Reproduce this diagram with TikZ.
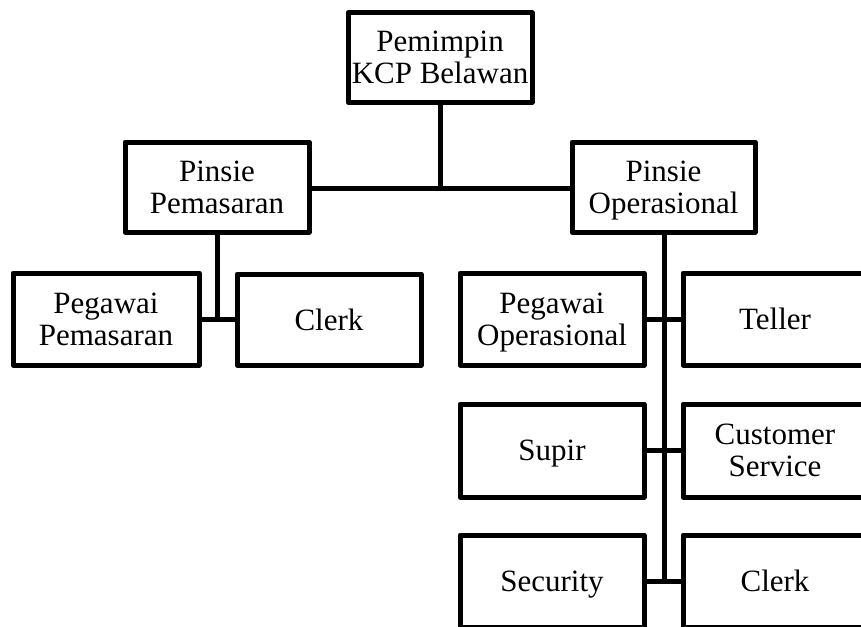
\documentclass[tikz,border=0pt]{standalone}
\usepackage{fontspec}
\setmainfont{Liberation Serif}
\begin{document}
\begin{tikzpicture}[x=1pt,y=-1pt,
  orgbox/.style={draw=black,line width=5pt,line join=round,fill=white,inner sep=0pt,
    align=center,font=\fontsize{31}{32}\selectfont,text depth=0pt,
    minimum width=184pt,minimum height=91pt},
  conn/.style={draw=black,line width=5pt}]
\useasboundingbox (0,0) rectangle (861,626);
\clip (0,0) rectangle (861,626);
% nodes
\node[orgbox,minimum height=89pt] (top) at (440,57.5) {Pemimpin\\KCP Belawan};
\node[orgbox,minimum height=90pt] (pp) at (217,187) {Pinsie\\Pemasaran};
\node[orgbox,minimum height=90pt,minimum width=183pt] (po) at (663.5,187) {Pinsie\\Operasional};
\node[orgbox,minimum width=186pt,minimum height=92pt] (pegpem) at (106,319) {Pegawai\\Pemasaran};
\node[orgbox] (clerkl) at (329,319.5) {Clerk};
\node[orgbox,minimum height=92pt] (pegop) at (552,319) {Pegawai\\Operasional};
\node[orgbox,minimum height=92pt] (teller) at (775,319) {Teller};
\node[orgbox,minimum height=93pt] (supir) at (552,450.5) {Supir};
\node[orgbox,minimum height=93pt] (cs) at (775,450.5) {Customer\\Service};
\node[orgbox,minimum height=92pt] (sec) at (552,581) {Security};
\node[orgbox,minimum height=92pt] (clerkr) at (775,581) {Clerk};
% junction coordinates
\coordinate (j1) at (440,188);
\coordinate (j2) at (217,319);
\coordinate (j3) at (664,581);
% connectors
\draw[conn] (top.south) -- (j1);
\draw[conn] (pp.east |- j1) -- (po.west |- j1);
\draw[conn] (pp.south) -- (j2);
\draw[conn] (pegpem.east |- j2) -- (clerkl.west |- j2);
\draw[conn] (po.south -| j3) -- (j3);
\draw[conn] (pegop.east) -- (teller.west);
\draw[conn] (supir.east) -- (cs.west);
\draw[conn] (sec.east) -- (clerkr.west);
\end{tikzpicture}
\end{document}
